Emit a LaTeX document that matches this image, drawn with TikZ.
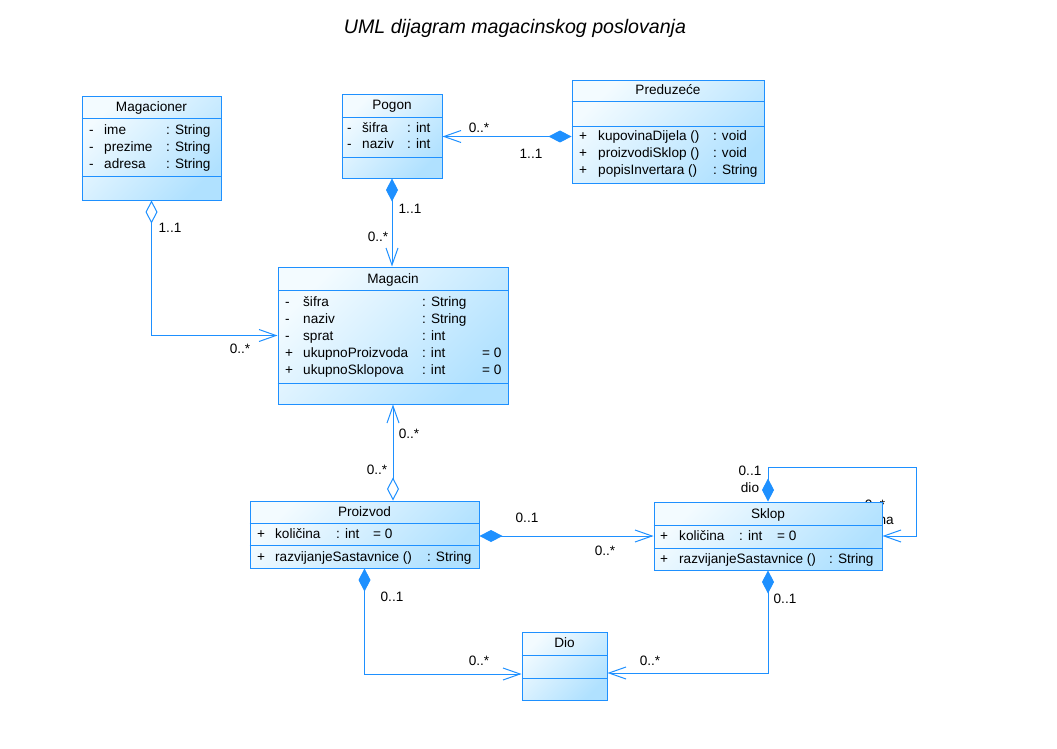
\documentclass[tikz,border=0pt]{standalone}
\usepackage{fontspec}
\setmainfont{Liberation Sans}
\usetikzlibrary{arrows.meta,calc}

\definecolor{umlline}{RGB}{30,144,255}
\definecolor{umlA}{RGB}{243,251,255}
\definecolor{umlB}{RGB}{176,225,255}
\pgfdeclarelayer{bg}
\pgfsetlayers{bg,main}
\newcommand{\umlfont}{\fontsize{13.6}{17}\selectfont}

\begin{document}
\begin{tikzpicture}[x=1pt,y=-1pt,
    cls/.style={draw=umlline, line width=1pt, top color=umlA, bottom color=umlB, shading angle=45, inner sep=0pt},
    sep/.style={draw=umlline, line width=1pt},
    ttl/.style={anchor=base, inner sep=0pt, font=\umlfont},
    cmp/.style={anchor=base west, inner sep=0pt, font=\umlfont},
    lbl/.style={inner sep=0pt, font=\umlfont},
    comp/.style={draw=umlline, line width=1pt, arrows={Diamond[length=23pt,width=12pt]-Straight Barb[length=17pt,width=12pt]}},
    aggr/.style={draw=umlline, line width=1pt, arrows={Diamond[open,length=23pt,width=12pt]-Straight Barb[length=17pt,width=12pt]}}]

\useasboundingbox (0,0) rectangle (1057,749);
\node[inner sep=0pt, anchor=base, font=\fontsize{19.6}{22}\selectfont\itshape] (naslov) at (515,34) {UML dijagram magacinskog poslovanja};

\node[cls, minimum width=139pt, minimum height=103pt] (magacioner) at (151.5,148.5) {};
\draw[sep] (magacioner.west |- 0,119) -- (magacioner.east |- 0,119);
\draw[sep] (magacioner.west |- 0,176) -- (magacioner.east |- 0,176);
\node[ttl] (magacionerIme) at (151.5,112) {Magacioner};
\node[cmp] (magacionerAtr) at (89,135) {\begin{tabular}[t]{@{}p{15pt}@{}p{62pt}@{}l@{}}
- & ime & : String\\ - & prezime & : String\\ - & adresa & : String\end{tabular}};

\node[cls, minimum width=100pt, minimum height=83pt] (pogon) at (392,136.5) {};
\draw[sep] (pogon.west |- 0,118) -- (pogon.east |- 0,118);
\draw[sep] (pogon.west |- 0,157) -- (pogon.east |- 0,157);
\node[ttl] (pogonIme) at (392,110) {Pogon};
\node[cmp] (pogonAtr) at (347,132) {\begin{tabular}[t]{@{}p{15pt}@{}p{45pt}@{}l@{}}
- & šifra & : int\\ - & naziv & : int\end{tabular}};

\node[cls, minimum width=192pt, minimum height=102pt] (preduzece) at (668,132) {};
\draw[sep] (preduzece.west |- 0,102) -- (preduzece.east |- 0,102);
\draw[sep] (preduzece.west |- 0,127) -- (preduzece.east |- 0,127);
\node[ttl] (preduzeceIme) at (668,95) {Preduzeće};
\node[cmp] (preduzeceOp) at (579,141) {\begin{tabular}[t]{@{}p{19pt}@{}p{115pt}@{}l@{}}
+ & kupovinaDijela () & : void\\ + & proizvodiSklop () & : void\\ + & popisInvertara () & : String\end{tabular}};

\node[cls, minimum width=230pt, minimum height=137pt] (magacin) at (393,335.5) {};
\draw[sep] (magacin.west |- 0,290) -- (magacin.east |- 0,290);
\draw[sep] (magacin.west |- 0,383) -- (magacin.east |- 0,383);
\node[ttl] (magacinIme) at (393,283) {Magacin};
\node[cmp] (magacinAtr) at (285,306) {\begin{tabular}[t]{@{}p{18pt}@{}p{119pt}@{}p{60pt}@{}l@{}}
- & šifra & : String & \\ - & naziv & : String & \\ - & sprat & : int & \\
+ & ukupnoProizvoda & : int & = 0\\ + & ukupnoSklopova & : int & = 0\end{tabular}};

\node[cls, minimum width=229pt, minimum height=67pt] (proizvod) at (364.5,534.5) {};
\draw[sep] (proizvod.west |- 0,523) -- (proizvod.east |- 0,523);
\draw[sep] (proizvod.west |- 0,545) -- (proizvod.east |- 0,545);
\node[ttl] (proizvodIme) at (364.5,516) {Proizvod};
\node[cmp] (proizvodAtr) at (257,538) {\begin{tabular}[t]{@{}p{18pt}@{}p{61pt}@{}p{37pt}@{}l@{}}
+ & količina & : int & = 0\end{tabular}};
\node[cmp] (proizvodOp) at (257,561) {\begin{tabular}[t]{@{}p{18pt}@{}p{152pt}@{}l@{}}
+ & razvijanjeSastavnice () & : String\end{tabular}};

\node[cls, minimum width=228pt, minimum height=68pt] (sklop) at (768,536) {};
\draw[sep] (sklop.west |- 0,525) -- (sklop.east |- 0,525);
\draw[sep] (sklop.west |- 0,548) -- (sklop.east |- 0,548);
\node[ttl] (sklopIme) at (768,518) {Sklop};
\node[cmp] (sklopAtr) at (660,540) {\begin{tabular}[t]{@{}p{19pt}@{}p{60pt}@{}p{38pt}@{}l@{}}
+ & količina & : int & = 0\end{tabular}};
\node[cmp] (sklopOp) at (660,563) {\begin{tabular}[t]{@{}p{19pt}@{}p{150pt}@{}l@{}}
+ & razvijanjeSastavnice () & : String\end{tabular}};

\node[cls, minimum width=85pt, minimum height=68pt] (dio) at (564.5,666) {};
\draw[sep] (dio.west |- 0,655) -- (dio.east |- 0,655);
\draw[sep] (dio.west |- 0,678) -- (dio.east |- 0,678);
\node[ttl] (dioIme) at (564.5,647) {Dio};

\coordinate (dioL) at ($(dio.west)+(0,8)$);
\coordinate (dioR) at ($(dio.east)+(0,7)$);

\begin{pgfonlayer}{bg}
\fill[white] (0,0) rectangle (1057,749);
\draw[aggr] (magacioner.south) |- (magacin.west);
\draw[comp] (pogon.south) -- (pogon.south |- magacin.north);
\draw[comp] (preduzece.west |- pogon.east) -- (pogon.east);
\draw[aggr] (proizvod.north -| magacin.south) -- (magacin.south);
\draw[comp] (proizvod.east |- sklop.west) -- (sklop.west);
\draw[comp] (proizvod.south) |- (dioL);
\draw[comp] (sklop.south) |- (dioR);
\draw[comp] (sklop.north) |- ($(sklop.north east)+(34,-34)$) |- (sklop.east);

\node[lbl] (m1) at (170,228) {1..1};
\node[lbl] (m2) at (240,349) {0..*};
\node[lbl] (m3) at (410,209) {1..1};
\node[lbl] (m4) at (378,237) {0..*};
\node[lbl] (m5) at (479,128) {0..*};
\node[lbl] (m6) at (531,154) {1..1};
\node[lbl] (m7) at (409,434) {0..*};
\node[lbl] (m8) at (377,470) {0..*};
\node[lbl] (m9) at (527,518) {0..1};
\node[lbl] (m10) at (605,551) {0..*};
\node[lbl] (m11) at (392,597) {0..1};
\node[lbl] (m12) at (479,661) {0..*};
\node[lbl] (m13) at (785,599) {0..1};
\node[lbl] (m14) at (650,661) {0..*};
\node[lbl] (m15) at (750,471) {0..1};
\node[lbl] (uloga1) at (750,488) {dio};
\node[lbl] (m16) at (875,505) {0..*};
\node[lbl, anchor=east] (uloga2) at (894,521) {na};
\end{pgfonlayer}
\end{tikzpicture}
\end{document}
